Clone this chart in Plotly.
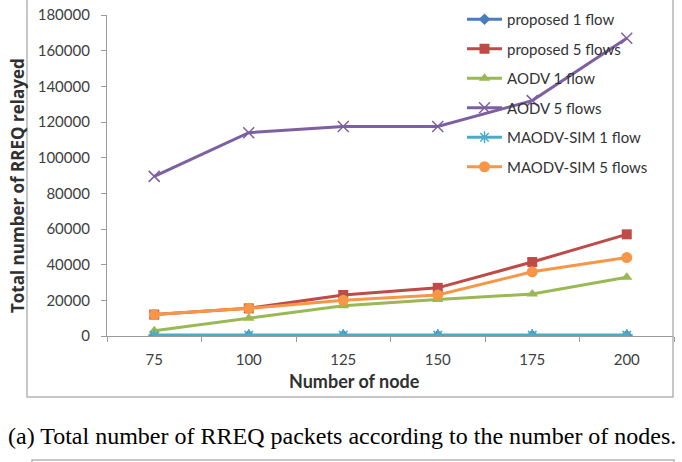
import plotly.graph_objects as go

nodes = ["75", "100", "125", "150", "175", "200"]
proposed_1 = [300, 300, 300, 300, 300, 300]
proposed_5 = [12000, 15500, 23000, 27000, 41500, 57000]
aodv_1 = [3000, 10000, 17000, 20500, 23500, 33000]
aodv_5 = [89500, 114000, 117500, 117500, 132000, 167000]
maodv_1 = [500, 500, 500, 500, 500, 500]
maodv_5 = [12000, 15500, 20000, 23000, 36000, 44000]
y_ticks = [0, 20000, 40000, 60000, 80000, 100000, 120000, 140000, 160000, 180000]
y_tick_text = [str(v) for v in y_ticks]

series = [
    ("proposed 1 flow", proposed_1, "#4A7EBB", "diamond", 9),
    ("proposed 5 flows", proposed_5, "#BE4B48", "square", 10),
    ("AODV 1 flow", aodv_1, "#98B954", "triangle-up", 10),
    ("AODV 5 flows", aodv_5, "#7D60A0", "x-thin", 11),
    ("MAODV-SIM 1 flow", maodv_1, "#4BACC6", "asterisk", 10),
    ("MAODV-SIM 5 flows", maodv_5, "#F79646", "circle", 11),
]

fig = go.Figure()
for i, (name, vals, col, sym, sz) in enumerate(series):
    fig.add_trace(go.Scatter(
        x=nodes, y=vals, name=name, mode="lines+markers",
        legendgroup=f"g{i}",
        line=dict(color=col, width=3),
        marker=dict(symbol=sym, size=sz, color=col,
                    line=dict(color=col, width=1.5 if sym in ("x-thin", "asterisk") else 0)),
    ))

L, R, T, B = 107, 8, 15, 126
W, H = 682, 462
pw, ph = W - L - R, H - T - B


def px(x):
    return (x - L) / pw


def py(y):
    return (H - B - y) / ph


fontfam = "Lato, 'Open Sans', sans-serif"
fig.update_layout(
    width=W, height=H,
    margin=dict(l=L, r=R, t=T, b=B, autoexpand=False),
    paper_bgcolor="white", plot_bgcolor="white",
    showlegend=True,
    legend=dict(
        x=px(462), y=py(3), xanchor="left", yanchor="top",
        bgcolor="rgba(0,0,0,0)",
        font=dict(family=fontfam, size=15, color="#333333"),
        tracegroupgap=7, traceorder="grouped",
        itemwidth=35,
    ),
    xaxis=dict(
        type="category", tickson="boundaries", range=[-0.5, 5.5],
        showline=True, linecolor="#9A9A9A", linewidth=1.2,
        ticks="outside", ticklen=5, tickcolor="#9A9A9A",
        showgrid=False, zeroline=False, ticklabelstandoff=10,
        tickfont=dict(family=fontfam, size=15, color="#404040"),
    ),
    yaxis=dict(
        range=[0, 180000], tickvals=y_ticks, ticktext=y_tick_text,
        showline=True, linecolor="#9A9A9A", linewidth=1.2,
        ticks="outside", ticklen=5, tickcolor="#9A9A9A",
        showgrid=False, zeroline=False, ticklabelstandoff=8,
        tickfont=dict(family=fontfam, size=15, color="#404040"),
    ),
    annotations=[
        dict(text="<b>Total number of RREQ relayed</b>", x=px(18), y=py(186),
             xref="paper", yref="paper", showarrow=False, textangle=-90,
             xanchor="center", yanchor="middle",
             font=dict(family="'Open Sans', sans-serif", size=17, color="#303030")),
        dict(text="<b>Number of node</b>", x=px(354), y=py(381),
             xref="paper", yref="paper", showarrow=False,
             xanchor="center", yanchor="middle",
             font=dict(family=fontfam, size=18, color="#303030")),
        dict(text="(a) Total number of RREQ packets according to the number of nodes.",
             x=px(342), y=py(436), xref="paper", yref="paper", showarrow=False,
             xanchor="center", yanchor="middle",
             font=dict(family="'Liberation Serif', serif", size=24, color="#000000")),
    ],
    shapes=[
        dict(type="rect", xref="paper", yref="paper",
             x0=px(27), x1=px(673), y0=py(397), y1=py(-10),
             line=dict(color="#B5B5B5", width=1.5)),
        dict(type="rect", xref="paper", yref="paper",
             x0=px(32), x1=px(674), y0=py(475), y1=py(460),
             line=dict(color="#B5B5B5", width=1.5)),
    ],
)

fig.write_html("out.html")
